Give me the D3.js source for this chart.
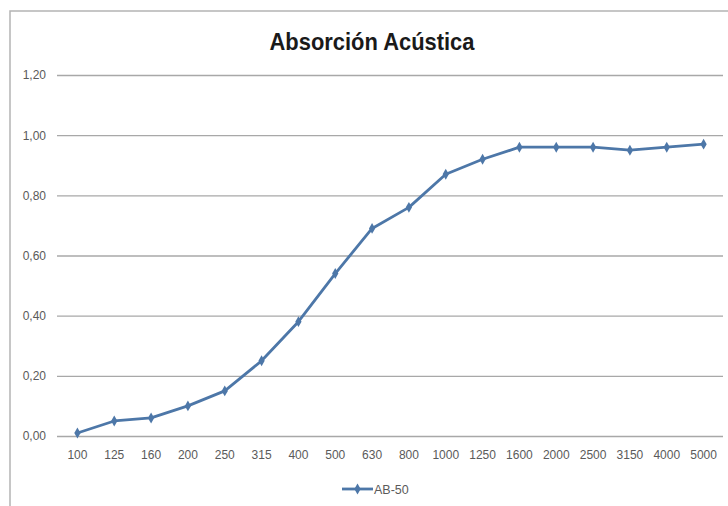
<!DOCTYPE html>
<html>
<head>
<meta charset="utf-8">
<script src="https://cdn.jsdelivr.net/npm/d3@7"></script>
<style>
  html, body { margin: 0; padding: 0; background: #fff; }
  svg { display: block; }
</style>
</head>
<body>
<svg id="chart" width="728" height="506"></svg>
<script>
// Frequency bands (Hz) and absorption coefficients for AB-50
const frequencies = ["100", "125", "160", "200", "250", "315", "400", "500", "630",
                     "800", "1000", "1250", "1600", "2000", "2500", "3150", "4000", "5000"];
const absorption = [0.01, 0.05, 0.06, 0.10, 0.15, 0.25, 0.38, 0.54, 0.69,
                    0.76, 0.87, 0.92, 0.96, 0.96, 0.96, 0.95, 0.96, 0.97];
const yTicks = [0, 0.2, 0.4, 0.6, 0.8, 1.0, 1.2];
const seriesName = "AB-50";
const chartTitle = "Absorción Acústica";

const svg = d3.select("#chart");
const W = 728, H = 506;
const plot = { left: 59, right: 722, top: 75, bottom: 436 };
const grid = { left: 57, right: 723 };
const lineColor = "#4d77a8";
const textColor = "#5a5a5a";
const font = "'Liberation Sans', Arial, sans-serif";

// Outer chart frame
svg.append("rect")
  .attr("x", 10).attr("y", 11)
  .attr("width", W + 20).attr("height", H)
  .attr("fill", "#fff")
  .attr("stroke", "#b4b4b4").attr("stroke-width", 1.5);

const x = d3.scaleBand().domain(frequencies).range([plot.left, plot.right]);
const y = d3.scaleLinear().domain([0, 1.2]).range([plot.bottom, plot.top]);
const fmt = v => d3.format(".2f")(v).replace(".", ",");

// Horizontal gridlines + y labels
const yAxis = d3.axisLeft(y).tickValues(yTicks).tickFormat(fmt)
  .tickSize(-(grid.right - grid.left)).tickPadding(11);
const gy = svg.append("g").attr("transform", `translate(${grid.left},0)`).call(yAxis);
gy.select(".domain").remove();
gy.selectAll(".tick line").attr("stroke", "#a8a8a8").attr("stroke-width", 1.4);
gy.selectAll(".tick text")
  .attr("fill", textColor).style("font-family", font).style("font-size", "12px");

// Category labels
const xAxis = d3.axisBottom(x).tickSize(0).tickPadding(14);
const gx = svg.append("g").attr("transform", `translate(0,${plot.bottom})`).call(xAxis);
gx.select(".domain").remove();
gx.selectAll(".tick text")
  .attr("fill", textColor).style("font-family", font).style("font-size", "12px");

// Series line
const cx = d => x(d) + x.bandwidth() / 2;
const pts = frequencies.map((f, i) => [cx(f), y(absorption[i])]);
svg.append("path")
  .datum(pts)
  .attr("d", d3.line())
  .attr("fill", "none")
  .attr("stroke", lineColor)
  .attr("stroke-width", 2.8)
  .attr("stroke-linejoin", "round");

// Diamond markers
const diamond = d3.symbol().type(d3.symbolDiamond).size(34);
svg.append("g").selectAll("path")
  .data(pts)
  .join("path")
  .attr("d", diamond)
  .attr("transform", d => `translate(${d[0]},${d[1]})`)
  .attr("fill", lineColor);

// Title
svg.append("text")
  .attr("x", 372).attr("y", 50)
  .attr("text-anchor", "middle")
  .attr("fill", "#1a1a1a")
  .attr("textLength", 205)
  .attr("lengthAdjust", "spacingAndGlyphs")
  .style("font-family", font)
  .style("font-weight", "bold")
  .style("font-size", "24px")
  .text(chartTitle);

// Legend
const lg = svg.append("g").attr("transform", "translate(342,489)");
lg.append("line").attr("x1", 0).attr("x2", 31).attr("y1", 0).attr("y2", 0)
  .attr("stroke", lineColor).attr("stroke-width", 2.8);
lg.append("path").attr("d", diamond).attr("transform", "translate(15.5,0)").attr("fill", lineColor);
lg.append("text").attr("x", 32).attr("y", 4.5)
  .attr("fill", textColor).style("font-family", font).style("font-size", "12.5px")
  .text(seriesName);
</script>
</body>
</html>
